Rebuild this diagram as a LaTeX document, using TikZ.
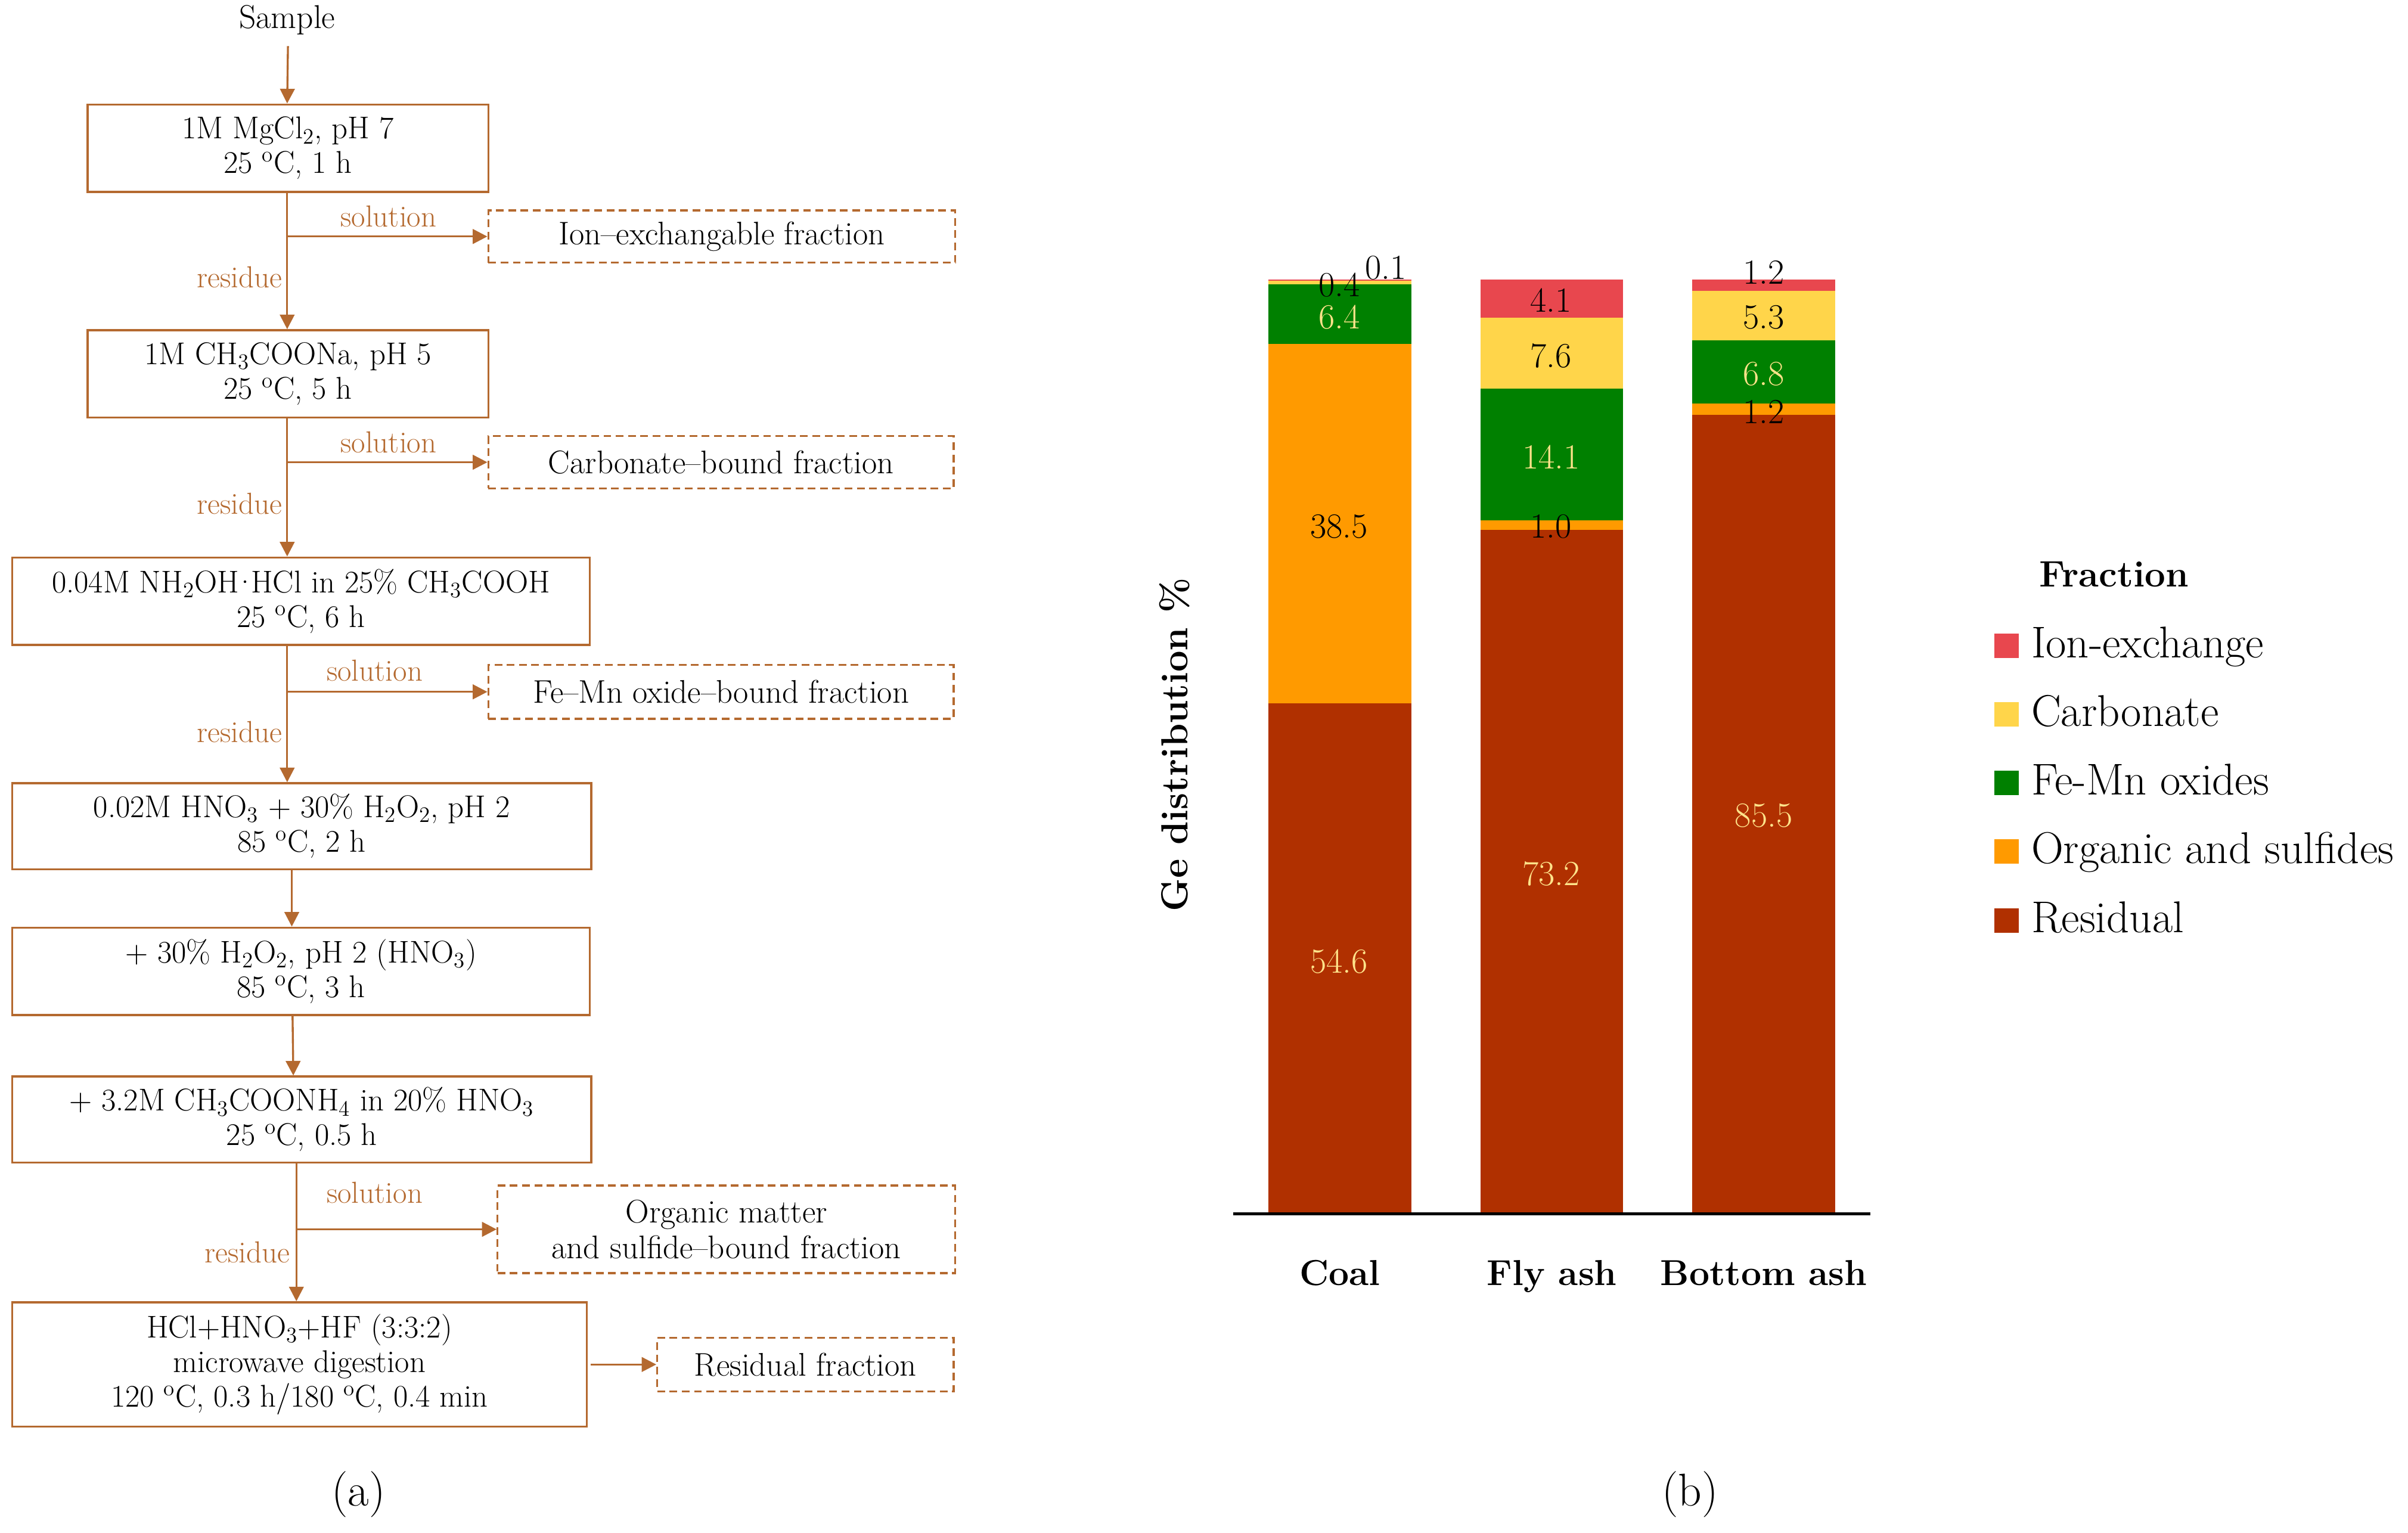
\documentclass[tikz,border=0pt]{standalone}
\usetikzlibrary{arrows.meta,calc}
\definecolor{brn}{HTML}{B4692F}
\definecolor{cres}{HTML}{B03000}
\definecolor{corg}{HTML}{FF9A00}
\definecolor{cfe}{HTML}{008000}
\definecolor{ccarb}{HTML}{FFD54A}
\definecolor{cion}{HTML}{E8474E}
\definecolor{clt}{HTML}{FFE38A}
\begin{document}
\begin{tikzpicture}[x=1pt,y=-1pt,
  box/.style={draw=brn, line width=1.3pt, rectangle, align=center, inner sep=0pt, font=\fontsize{20.5}{22.5}\selectfont, text=black},
  dbox/.style={box, dash pattern=on 5pt off 3pt, font=\fontsize{21.3}{23}\selectfont},
  arr/.style={draw=brn, line width=1.3pt, -{Triangle[length=9.5pt,width=9.5pt]}},
  lbl/.style={text=brn, font=\fontsize{19.8}{22}\selectfont, inner sep=0pt},
  num/.style={font=\fontsize{23}{26}\selectfont, inner sep=0pt},
  cat/.style={font=\fontsize{23.5}{27}\selectfont\bfseries, inner sep=0pt, anchor=base},
  leg/.style={font=\fontsize{29}{32}\selectfont, anchor=base west, inner sep=0pt},
  sq/.style={minimum size=16pt, inner sep=0pt}]
\useasboundingbox (0,0) rectangle (1568,998);
% ---------------- flowchart (a)
\node[font=\fontsize{21.5}{24}\selectfont, inner sep=0pt] (sample) at (187,13) {Sample};
\node[box, minimum width=261pt, minimum height=57pt] (b1) at (187.5,96.5) {1M MgCl\textsubscript{2}, pH 7\\25 \textsuperscript{o}C, 1 h};
\node[box, minimum width=261pt, minimum height=57pt] (b2) at (187.5,243.5) {1M CH\textsubscript{3}COONa, pH 5\\25 \textsuperscript{o}C, 5 h};
\node[box, minimum width=376pt, minimum height=57pt] (b3) at (196,391.5) {0.04M NH\textsubscript{2}OH{\kern-3.5pt}·{\kern-3.5pt}HCl in 25\% CH\textsubscript{3}COOH\\25 \textsuperscript{o}C, 6 h};
\node[box, minimum width=377pt, minimum height=56pt] (b4) at (196.5,538) {0.02M HNO\textsubscript{3} + 30\% H\textsubscript{2}O\textsubscript{2}, pH 2\\85 \textsuperscript{o}C, 2 h};
\node[box, minimum width=376pt, minimum height=57pt] (b5) at (196,632.5) {+ 30\% H\textsubscript{2}O\textsubscript{2}, pH 2 (HNO\textsubscript{3})\\85 \textsuperscript{o}C, 3 h};
\node[box, minimum width=377pt, minimum height=56pt] (b6) at (196.5,729) {+ 3.2M CH\textsubscript{3}COONH\textsubscript{4} in 20\% HNO\textsubscript{3}\\25 \textsuperscript{o}C, 0.5 h};
\node[box, minimum width=374pt, minimum height=81pt] (b7) at (195,888.5) {HCl+HNO\textsubscript{3}+HF (3:3:2)\\microwave digestion\\120 \textsuperscript{o}C, 0.3 h/180 \textsuperscript{o}C, 0.4 min};

\node[dbox, minimum width=304pt, minimum height=34pt] (d1) at (470,154) {Ion–exchangable fraction};
\node[dbox, minimum width=303pt, minimum height=34pt] (d2) at (469.5,301) {Carbonate–bound fraction};
\node[dbox, minimum width=303pt, minimum height=35pt] (d3) at (469.5,450.5) {Fe–Mn oxide–bound fraction};
\node[dbox, minimum width=298pt, minimum height=57pt] (d4) at (473,800.5) {Organic matter\\and sulfide–bound fraction};
\node[dbox, minimum width=193pt, minimum height=35pt] (d5) at (524.5,888.5) {Residual fraction};

% vertical connectors
\draw[arr] ([xshift=0.5pt]sample.south |- 0,30) -- ([xshift=-0.5pt]b1.north);
\draw[arr] ([xshift=-0.5pt]b1.south) -- ([xshift=-0.5pt]b2.north);
\draw[arr] ([xshift=-0.5pt]b2.south) -- ([xshift=-9pt]b3.north);
\draw[arr] ([xshift=-9pt]b3.south) -- ([xshift=-9.5pt]b4.north);
\draw[arr] ([xshift=-6.5pt]b4.south) -- ([xshift=-6pt]b5.north);
\draw[arr] ([xshift=-5.5pt]b5.south) -- ([xshift=-5.5pt]b6.north);
\draw[arr] ([xshift=-3.5pt]b6.south) -- ([xshift=-2pt]b7.north);

% branches
\draw[arr] (d1.west -| b1.south) -- (d1.west);
\draw[arr] (d2.west -| b2.south) -- (d2.west);
\draw[arr] ([xshift=-9pt]b3.south |- d3.west) -- (d3.west);
\draw[arr] ([xshift=-3.5pt]b6.south |- d4.west) -- (d4.west);
\draw[arr] ([xshift=2pt]b7.east) -- (d5.west);

% labels
\node[lbl] (s1) at (253,141) {solution};
\node[lbl] (s2) at (253,288) {solution};
\node[lbl] (s3) at (244,436.5) {solution};
\node[lbl] (s4) at (244,776.5) {solution};
\node[lbl, anchor=east] (r1) at (184,180.5) {residue};
\node[lbl, anchor=east] (r2) at (184,328) {residue};
\node[lbl, anchor=east] (r3) at (184,476.5) {residue};
\node[lbl, anchor=east] (r4) at (189,815.5) {residue};

\node[font=\fontsize{30}{32}\selectfont, inner sep=0pt] (capa) at (233.5,973) {(a)};

% ---------------- chart (b)
% Coal
\fill[cres]  (826,790)    rectangle (919,458.03);
\fill[corg]  (826,458.03) rectangle (919,223.95);
\fill[cfe]   (826,223.95) rectangle (919,185.04);
\fill[ccarb] (826,185.04) rectangle (919,182.61);
\fill[cion]  (826,182.61) rectangle (919,182.0);
% Fly ash
\fill[cres]  (964,790)    rectangle (1057,344.94);
\fill[corg]  (964,344.94) rectangle (1057,338.86);
\fill[cfe]   (964,338.86) rectangle (1057,253.13);
\fill[ccarb] (964,253.13) rectangle (1057,206.92);
\fill[cion]  (964,206.92) rectangle (1057,182.0);
% Bottom ash
\fill[cres]  (1102,790)    rectangle (1195,270.16);
\fill[corg]  (1102,270.16) rectangle (1195,262.86);
\fill[cfe]   (1102,262.86) rectangle (1195,221.52);
\fill[ccarb] (1102,221.52) rectangle (1195,189.30);
\fill[cion]  (1102,189.30) rectangle (1195,182.0);
% axis
\draw[line width=1.8pt] (803,790.3) -- (1218,790.3);

% values
\node[num, text=clt] (c1) at (872,626) {54.6};
\node[num] (c2) at (872,343) {38.5};
\node[num, text=clt] (c3) at (872,206.5) {6.4};
\node[num] (c4) at (872,185.7) {0.4};
\node[num] (c5) at (902.5,174.3) {0.1};
\node[num, text=clt] (f1) at (1010,569) {73.2};
\node[num] (f2) at (1010,343) {1.0};
\node[num, text=clt] (f3) at (1010,297.5) {14.1};
\node[num] (f4) at (1010,231.7) {7.6};
\node[num] (f5) at (1010,195.6) {4.1};
\node[num, text=clt] (g1) at (1148.5,531) {85.5};
\node[num] (g2) at (1148.5,268) {1.2};
\node[num, text=clt] (g3) at (1148.5,243.6) {6.8};
\node[num] (g4) at (1148.5,206.5) {5.3};
\node[num] (g5) at (1148.5,177.5) {1.2};

% categories
\node[cat] (k1) at (872.5,837) {Coal};
\node[cat] (k2) at (1010.5,837) {Fly ash};
\node[cat] (k3) at (1148.5,837) {Bottom ash};

% y label
\node[font=\fontsize{24.5}{28}\selectfont\bfseries, inner sep=0pt, rotate=90] (ylab) at (765,485) {Ge distribution \%};

% legend
\node[font=\fontsize{24}{28}\selectfont\bfseries, inner sep=0pt] (ftitle) at (1376.5,374) {Fraction};
\node[sq, fill=cion]  (q1) at (1306.5,420.5) {};
\node[sq, fill=ccarb] (q2) at (1306.5,465.2) {};
\node[sq, fill=cfe]   (q3) at (1306.5,509.7) {};
\node[sq, fill=corg]  (q4) at (1306.5,554.4) {};
\node[sq, fill=cres]  (q5) at (1306.5,599.4) {};
\node[leg] (t1) at (1322.5,428.3) {Ion-exchange};
\node[leg] (t2) at (1322.5,472.9) {Carbonate};
\node[leg] (t3) at (1322.5,517.5) {Fe-Mn oxides};
\node[leg] (t4) at (1322.5,562.2) {Organic and sulfides};
\node[leg] (t5) at (1322.5,607.2) {Residual};

\node[font=\fontsize{30}{32}\selectfont, inner sep=0pt] (capb) at (1100.5,973) {(b)};
\end{tikzpicture}
\end{document}
